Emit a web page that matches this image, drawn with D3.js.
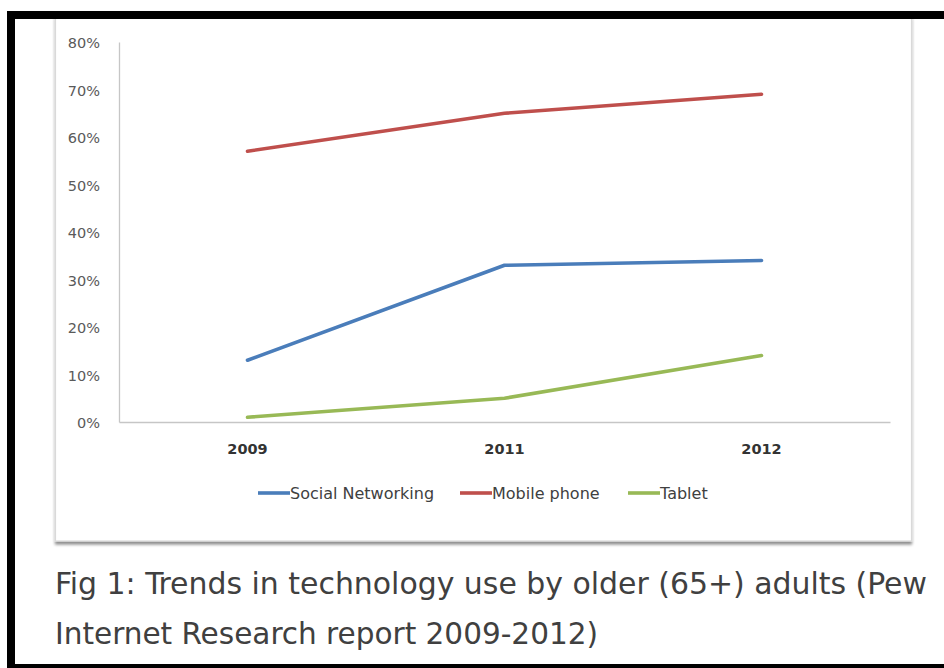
<!DOCTYPE html>
<html>
<head>
<meta charset="utf-8">
<script src="https://cdn.jsdelivr.net/npm/d3@7/dist/d3.min.js"></script>
<style>
  html, body { margin: 0; padding: 0; background: #ffffff; }
  svg { display: block; }
</style>
</head>
<body>
<svg id="chart" width="944" height="668"></svg>
<script>
// ---- data ----
const categories = ["2009", "2011", "2012"];
const socialNetworking = [0.13, 0.33, 0.34];
const mobilePhone = [0.57, 0.65, 0.69];
const tablet = [0.01, 0.05, 0.14];
const seriesNames = ["Social Networking", "Mobile phone", "Tablet"];
const yTicks = [0, 0.1, 0.2, 0.3, 0.4, 0.5, 0.6, 0.7, 0.8];
const captionLines = [
  "Fig 1: Trends in technology use by older (65+) adults (Pew",
  "Internet Research report 2009-2012)"
];

const series = [
  { name: seriesNames[0], values: socialNetworking, color: "#4a7dba" },
  { name: seriesNames[1], values: mobilePhone, color: "#bf4f4c" },
  { name: seriesNames[2], values: tablet, color: "#98b956" }
];

const svg = d3.select("#chart");
const W = 944, H = 668;

svg.append("rect").attr("x", 0).attr("y", 0).attr("width", W).attr("height", H).attr("fill", "#ffffff");

// chart frame with soft shadow
const defs = svg.append("defs");
const f = defs.append("filter").attr("id", "shadow").attr("x", "-5%").attr("y", "-5%").attr("width", "110%").attr("height", "115%");
f.append("feGaussianBlur").attr("in", "SourceAlpha").attr("stdDeviation", 1.8).attr("result", "b");
f.append("feOffset").attr("in", "b").attr("dx", 0).attr("dy", 2.5).attr("result", "o");
f.append("feComponentTransfer").attr("in", "o").attr("result", "o2")
  .append("feFuncA").attr("type", "linear").attr("slope", 0.45);
const fm = f.append("feMerge");
fm.append("feMergeNode").attr("in", "o2");
fm.append("feMergeNode").attr("in", "SourceGraphic");

svg.append("rect")
  .attr("x", 55.5).attr("y", 16).attr("width", 856).attr("height", 525)
  .attr("fill", "#ffffff").attr("stroke", "#d9d9d9").attr("stroke-width", 1.2)
  .attr("filter", "url(#shadow)");

// scales
const x = d3.scaleBand().domain(categories).range([119, 890]).padding(0);
const y = d3.scaleLinear().domain([0, 0.8]).range([422, 42]);
const cx = d => x(d) + x.bandwidth() / 2;

// y axis
const yAxis = d3.axisLeft(y).tickValues(yTicks).tickFormat(d3.format(".0%")).tickSize(0).tickPadding(19);
const gy = svg.append("g").attr("transform", "translate(119,0)").call(yAxis);
gy.select(".domain").attr("stroke", "#c6c6c6").attr("stroke-width", 1.3);
gy.selectAll("text")
  .attr("font-family", "'DejaVu Sans', Verdana, sans-serif")
  .attr("font-size", 14.5).attr("fill", "#5a5a5a").attr("dy", "0.38em");

// x axis
const xAxis = d3.axisBottom(x).tickSize(0).tickPadding(22);
const gx = svg.append("g").attr("transform", "translate(0,422)").call(xAxis);
gx.select(".domain").attr("stroke", "#c6c6c6").attr("stroke-width", 1.3);
gx.selectAll("text")
  .attr("font-family", "'DejaVu Sans', Verdana, sans-serif")
  .attr("font-weight", "bold")
  .attr("font-size", 14.5).attr("fill", "#333333");

// lines
const line = d3.line().x((d, i) => cx(categories[i])).y(d => y(d));
svg.append("g").selectAll("path").data(series).join("path")
  .attr("d", s => line(s.values))
  .attr("fill", "none")
  .attr("stroke", s => s.color)
  .attr("stroke-width", 3.6)
  .attr("stroke-linejoin", "round")
  .attr("stroke-linecap", "round");

// legend
const legendX = [258, 460, 628];
const lg = svg.append("g").selectAll("g").data(series).join("g")
  .attr("transform", (s, i) => `translate(${legendX[i]},493)`);
lg.append("line").attr("x1", 0).attr("x2", 32).attr("y1", 0).attr("y2", 0)
  .attr("stroke", s => s.color).attr("stroke-width", 3.6);
lg.append("text").attr("x", 32).attr("y", 0).attr("dy", "0.36em")
  .attr("font-family", "'DejaVu Sans', Verdana, sans-serif")
  .attr("font-size", 16).attr("fill", "#404040")
  .text(s => s.name);

// caption
svg.append("g").selectAll("text").data(captionLines).join("text")
  .attr("x", 55)
  .attr("y", (d, i) => 594 + i * 50)
  .attr("font-family", "'DejaVu Sans Condensed', 'DejaVu Sans', sans-serif")
  .attr("font-size", 31)
  .attr("fill", "#404040")
  .attr("textLength", (d, i) => i === 0 ? 872 : 543)
  .attr("lengthAdjust", "spacingAndGlyphs")
  .text(d => d);

// black photo border
svg.append("rect").attr("x", 7).attr("y", 11).attr("width", W - 7).attr("height", 8).attr("fill", "#000");
svg.append("rect").attr("x", 7).attr("y", 11).attr("width", 8).attr("height", H - 11).attr("fill", "#000");
svg.append("rect").attr("x", 7).attr("y", 664).attr("width", W - 7).attr("height", 4).attr("fill", "#000");
</script>
</body>
</html>
